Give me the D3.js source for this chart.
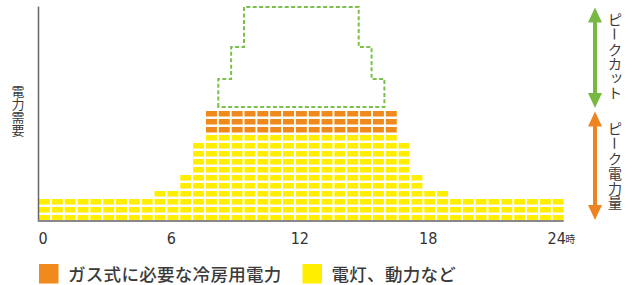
<!DOCTYPE html>
<html>
<head>
<meta charset="utf-8">
<script src="https://cdn.jsdelivr.net/npm/d3@7"></script>
<style>
  body { margin: 0; background: #fff; }
  svg { display: block; }
  .jp { font-family: "Noto Sans CJK JP", "Noto Sans", sans-serif; fill: #3a3a3a; }
  .num { font-family: "Liberation Sans Narrow", "DejaVu Sans Condensed", "Roboto", sans-serif; fill: #333; }
</style>
</head>
<body>
<div id="chart"></div>
<script>
// one column = 0.6 h, 41 columns from 0 to 24時
const yellowRows = [3, 3, 3, 3, 3, 3, 3, 3, 3, 4, 4, 6, 10,
  11, 11, 11, 11, 11, 11, 11, 11, 11, 11, 11, 11, 11, 11, 11,
  10, 6, 4, 4, 3, 3, 3, 3, 3, 3, 3, 3, 3];
const orangeRows = [0, 0, 0, 0, 0, 0, 0, 0, 0, 0, 0, 0, 0,
  3, 3, 3, 3, 3, 3, 3, 3, 3, 3, 3, 3, 3, 3, 3,
  0, 0, 0, 0, 0, 0, 0, 0, 0, 0, 0, 0, 0];
// dashed "peak cut" outline: column span and level (in rows)
const peakBase = 14.5;
const peakSteps = [
  { from: 14, to: 26, level: 18 },
  { from: 15, to: 25, level: 22 },
  { from: 16, to: 24, level: 27 }
];
const hourTicks = [0, 6, 12, 18, 24];
const legendItems = [
  { label: 'ガス式に必要な冷房用電力', color: '#f08a1c' },
  { label: '電灯、動力など', color: '#ffee00' }
];

const width = 632, height = 285;
const svg = d3.select('#chart').append('svg')
  .attr('width', width)
  .attr('height', height);

const x = d3.scaleBand()
  .domain(d3.range(yellowRows.length))
  .range([39, 563.7])
  .paddingInner(0.144)
  .paddingOuter(0);

const y = d3.scaleLinear().domain([0, 27.5]).range([223, 3]);
const cellH = 5.5;

const hour = d3.scaleLinear()
  .domain([0, 24])
  .range([x(0) + x.bandwidth() / 2, x(40) + x.bandwidth() / 2]);

// cells
const cells = [];
yellowRows.forEach(function(n, i) {
  for (let r = 1; r <= n; r++) cells.push({ col: i, row: r, color: '#ffee00' });
  for (let r = 1; r <= orangeRows[i]; r++) cells.push({ col: i, row: n + r, color: '#f08a1c' });
});

svg.append('g').selectAll('rect')
  .data(cells)
  .enter()
  .append('rect')
  .attr('x', d => x(d.col))
  .attr('y', d => y(d.row))
  .attr('width', x.bandwidth())
  .attr('height', cellH)
  .attr('fill', d => d.color);

// axes
svg.append('line')
  .attr('x1', 38.5).attr('x2', 38.5)
  .attr('y1', y(27.05)).attr('y2', y(0) - 1)
  .attr('stroke', '#666').attr('stroke-width', 1.5);
svg.append('line')
  .attr('x1', 38).attr('x2', x(40) + x.bandwidth())
  .attr('y1', y(0) - 2).attr('y2', y(0) - 2)
  .attr('stroke', '#888').attr('stroke-width', 2);

// dashed peak outline
const pts = [];
peakSteps.forEach(function(s, k) {
  const prev = k === 0 ? peakBase : peakSteps[k - 1].level;
  pts.push([x(s.from) - 0.5, y(prev)]);
  pts.push([x(s.from) - 0.5, y(s.level)]);
});
peakSteps.slice().reverse().forEach(function(s, k, arr) {
  const next = k === arr.length - 1 ? peakBase : arr[k + 1].level;
  pts.push([x(s.to) + x.bandwidth() + 0.5, y(s.level)]);
  pts.push([x(s.to) + x.bandwidth() + 0.5, y(next)]);
});
svg.append('path')
  .attr('d', d3.line()(pts) + 'Z')
  .attr('fill', 'none')
  .attr('stroke', '#7cc04b')
  .attr('stroke-width', 2)
  .attr('stroke-dasharray', '4,2.4');

// x tick labels
svg.append('g').selectAll('text')
  .data(hourTicks)
  .enter()
  .append('text')
  .attr('class', 'num')
  .attr('x', d => hour(d) - 1.5)
  .attr('y', 243.5)
  .attr('text-anchor', 'middle')
  .attr('font-size', 16)
  .text(d => d);
svg.append('text')
  .attr('class', 'jp')
  .attr('x', hour(24) + 7)
  .attr('y', 243)
  .attr('font-size', 10)
  .text('時');

// stacked upright characters (vertical writing)
function verticalText(str, cx, top, size, pitch) {
  const g = svg.append('g');
  Array.from(str).forEach(function(ch, i) {
    const cy = top + pitch * i + pitch / 2;
    let dx = 0, dy = 0;
    if ('ッャュョ'.includes(ch)) { dx = 1.5; dy = -1.5; }
    const t = g.append('text')
      .attr('class', 'jp')
      .attr('x', cx + dx)
      .attr('y', cy + dy)
      .attr('font-size', size)
      .attr('text-anchor', 'middle')
      .attr('dominant-baseline', 'central')
      .text(ch);
    if (ch === 'ー') t.attr('transform', `rotate(90,${cx},${cy})`);
  });
}

verticalText('電力需要', 18, 84, 13, 13);

// double arrows
function arrow(top, bottom, color) {
  const cx = 595, hw = 7, hh = 15;
  svg.append('line')
    .attr('x1', cx).attr('x2', cx)
    .attr('y1', top + hh - 1).attr('y2', bottom - hh + 1)
    .attr('stroke', color).attr('stroke-width', 4);
  svg.append('path')
    .attr('d', `M${cx},${top}L${cx + hw},${top + hh}L${cx - hw},${top + hh}Z`)
    .attr('fill', color);
  svg.append('path')
    .attr('d', `M${cx},${bottom}L${cx + hw},${bottom - hh}L${cx - hw},${bottom - hh}Z`)
    .attr('fill', color);
}
arrow(y(27) + 0.5, y(peakBase) + 1, '#77b843');
arrow(y(peakBase) + 4.5, y(0) - 3, '#ee8420');

verticalText('ピークカット', 615, 12, 14, 14.6);
verticalText('ピーク電力量', 615, 121, 14, 14.8);

// legend
const legendX = [39, 302.5];
const lg = svg.append('g').selectAll('g')
  .data(legendItems)
  .enter()
  .append('g')
  .attr('transform', (d, i) => `translate(${legendX[i]},264)`);
lg.append('rect')
  .attr('width', 19.5).attr('height', 19.5)
  .attr('fill', d => d.color);
lg.append('text')
  .attr('class', 'jp')
  .attr('x', 29)
  .attr('y', 17)
  .attr('font-size', 17.5)
  .attr('font-weight', 500)
  .attr('letter-spacing', 0.3)
  .text(d => d.label);
</script>
</body>
</html>
